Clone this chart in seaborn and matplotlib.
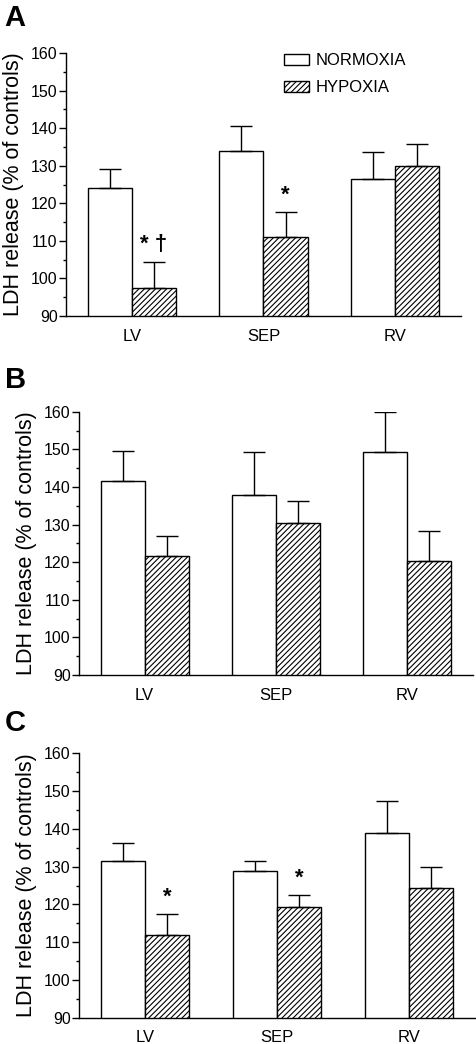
import matplotlib
matplotlib.use("Agg")
import matplotlib.pyplot as plt
from matplotlib.patches import Patch
from matplotlib.ticker import MultipleLocator
import pandas as pd
import seaborn as sns

# regions and groups
regions = ["LV", "SEP", "RV"]
groups = ["NORMOXIA", "HYPOXIA"]

# means and SEM (% of controls)
a_norm = [124.2, 133.9, 126.5]
a_norm_sem = [4.9, 6.7, 7.2]
a_hyp = [97.5, 111.1, 129.9]
a_hyp_sem = [7.0, 6.7, 5.9]

b_norm = [141.6, 138.0, 149.4]
b_norm_sem = [8.0, 11.3, 10.6]
b_hyp = [121.7, 130.5, 120.4]
b_hyp_sem = [5.3, 5.8, 7.9]

c_norm = [131.5, 128.9, 138.8]
c_norm_sem = [4.7, 2.7, 8.6]
c_hyp = [111.8, 119.4, 124.3]
c_hyp_sem = [5.7, 3.2, 5.7]

# significance marks over hypoxia bars
a_marks = ["* \u2020", "*", ""]
b_marks = ["", "", ""]
c_marks = ["*", "*", ""]

sns.set_style("ticks")
plt.rcParams["font.family"] = ["Liberation Sans", "DejaVu Sans"]
plt.rcParams["hatch.linewidth"] = 0.8
for key in ["text.color", "axes.labelcolor", "xtick.color", "ytick.color"]:
    plt.rcParams[key] = "black"

fig = plt.figure(figsize=(4.77, 10.44), dpi=100)

panels = [
    ("A", [0.1384, 0.6973, 0.828, 0.2519], a_norm, a_norm_sem, a_hyp, a_hyp_sem, a_marks),
    ("B", [0.1656, 0.3534, 0.826, 0.2522], b_norm, b_norm_sem, b_hyp, b_hyp_sem, b_marks),
    ("C", [0.1656, 0.0252, 0.830, 0.2532], c_norm, c_norm_sem, c_hyp, c_hyp_sem, c_marks),
]

letter_y = [0.983, 0.636, 0.3075]

for i, (letter, rect, norm, norm_sem, hyp, hyp_sem, marks) in enumerate(panels):
    ax = fig.add_axes(rect)
    df = pd.DataFrame({
        "region": regions * 2,
        "group": [groups[0]] * 3 + [groups[1]] * 3,
        "ldh": norm + hyp,
    })
    sns.barplot(data=df, x="region", y="ldh", hue="group", order=regions,
                hue_order=groups, palette=["white", "white"], edgecolor="black",
                linewidth=1.0, width=0.67, errorbar=None, legend=False, ax=ax)

    bar_sets = list(ax.containers[:2])
    for bar in bar_sets[1]:
        bar.set_hatch("//////")

    sems = [norm_sem, hyp_sem]
    for k, cont in enumerate(bar_sets):
        for j, bar in enumerate(cont.patches):
            xc = bar.get_x() + bar.get_width() / 2
            top = bar.get_height()
            ax.errorbar(xc, top, yerr=[[0], [sems[k][j]]], fmt="none",
                        ecolor="black", elinewidth=1.0, capsize=8,
                        capthick=1.0, zorder=1)
            if k == 1 and marks[j]:
                ax.annotate(marks[j], (xc, top + sems[k][j]), xytext=(0, 4.5),
                            textcoords="offset points", ha="center", va="bottom",
                            fontsize=16, fontweight="bold")

    ax.set_ylim(90, 160)
    ax.set_xlim(-0.5, 2.5)
    ax.yaxis.set_major_locator(MultipleLocator(10))
    ax.yaxis.set_minor_locator(MultipleLocator(5))
    ax.tick_params(axis="y", which="major", length=5, width=1, labelsize=11.5,
                   pad=1)
    ax.tick_params(axis="y", which="minor", length=2.5, width=1)
    ax.tick_params(axis="x", length=0, labelsize=12, pad=9)
    ax.set_xlabel("")
    ax.set_ylabel("LDH release (% of controls)", fontsize=15.5, labelpad=5)
    sns.despine(ax=ax)
    for s in ["left", "bottom"]:
        ax.spines[s].set_linewidth(1.0)
        ax.spines[s].set_color("black")

    fig.text(0.01, letter_y[i], letter, fontsize=21, fontweight="bold",
             ha="left", va="center")

    if letter == "A":
        handles = [Patch(facecolor="white", edgecolor="black", linewidth=1.0),
                   Patch(facecolor="white", edgecolor="black", linewidth=1.0,
                         hatch="//////")]
        ax.legend(handles, groups, loc="upper left", bbox_to_anchor=(0.553, 1.0),
                  frameon=False, fontsize=12, handlelength=1.5,
                  handleheight=0.66, handletextpad=0.38, labelspacing=0.72,
                  borderpad=0, borderaxespad=0)

fig.savefig("out.png", dpi=100)
